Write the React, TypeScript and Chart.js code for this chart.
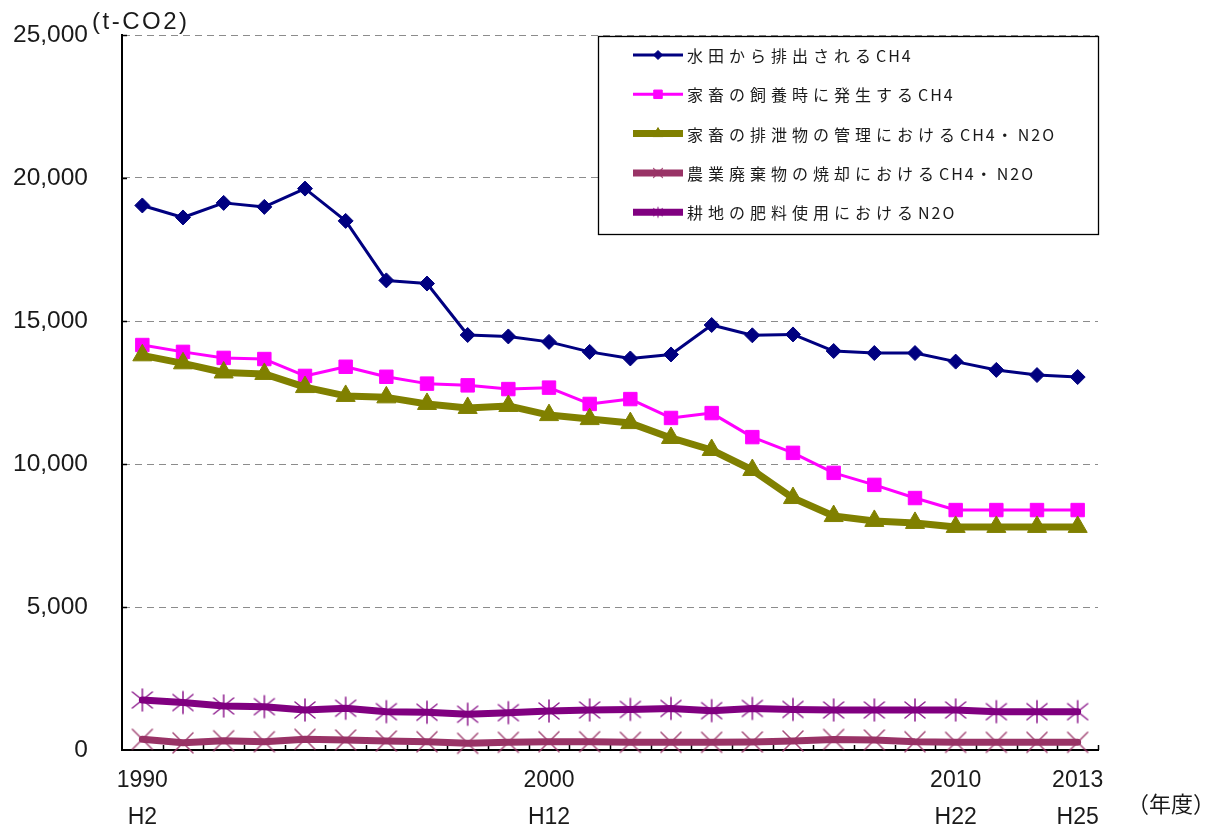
import React, { useEffect, useRef } from 'react';
import { Chart, registerables } from 'chart.js';
import { drawPoint } from 'chart.js/helpers';

Chart.register(...registerables);

// ---- data -------------------------------------------------------------
const years = [
  '1990', '1991', '1992', '1993', '1994', '1995', '1996', '1997',
  '1998', '1999', '2000', '2001', '2002', '2003', '2004', '2005',
  '2006', '2007', '2008', '2009', '2010', '2011', '2012', '2013',
];
const markedYears = ['1990', '2000', '2010', '2013'];
const eraNames = ['H2', 'H12', 'H22', 'H25'];

const seriesNames = [
  '水田から排出されるCH4',
  '家畜の飼養時に発生するCH4',
  '家畜の排泄物の管理におけるCH4・N2O',
  '農業廃棄物の焼却におけるCH4・N2O',
  '耕地の肥料使用におけるN2O',
];

const paddyFieldCH4 = [
  19040, 18620, 19130, 18990, 19630, 18500, 16420, 16310,
  14510, 14460, 14270, 13920, 13690, 13830, 14860, 14500,
  14530, 13950, 13880, 13880, 13580, 13290, 13110, 13040,
];
const entericCH4 = [
  14160, 13920, 13710, 13670, 13080, 13400, 13050, 12810,
  12750, 12620, 12670, 12100, 12270, 11610, 11780, 10940,
  10390, 9690, 9270, 8810, 8390, 8390, 8390, 8390,
];
const manureCH4N2O = [
  13800, 13520, 13200, 13150, 12690, 12380, 12330, 12100,
  11960, 12030, 11710, 11570, 11430, 10910, 10490, 9790,
  8810, 8180, 8010, 7940, 7800, 7800, 7800, 7800,
];
const residueBurning = [
  375, 250, 325, 290, 375, 350, 315, 290,
  235, 270, 290, 290, 270, 270, 270, 280,
  315, 370, 350, 290, 270, 270, 270, 270,
];
const fertilizerN2O = [
  1750, 1660, 1540, 1515, 1400, 1460, 1340, 1320,
  1250, 1305, 1365, 1400, 1420, 1455, 1375, 1455,
  1420, 1400, 1400, 1400, 1400, 1340, 1340, 1340,
];

const yMax = 25000;
const yStep = 5000;
const yUnit = '(t-CO2)';
const xUnit = '（年度）';

// ---- styling ----------------------------------------------------------
const NUM_FONT = '"Liberation Sans", Arial, sans-serif';
const JP_FONT = '"Noto Sans CJK JP", "Noto Sans", sans-serif';
const TEXT_COLOR = '#1a1a1a';

type MarkerDraw = (g: CanvasRenderingContext2D, s: number) => void;

const drawX: MarkerDraw = (g, s) => {
  g.moveTo(-10 * s, -10 * s); g.lineTo(10 * s, 10 * s);
  g.moveTo(-10 * s, 10 * s); g.lineTo(10 * s, -10 * s);
};
const drawAsterisk: MarkerDraw = (g, s) => {
  g.moveTo(-10 * s, -8 * s); g.lineTo(10 * s, 8 * s);
  g.moveTo(-10 * s, 8 * s); g.lineTo(10 * s, -8 * s);
  g.moveTo(0, -11 * s); g.lineTo(0, 11 * s);
};

function makeMarker(draw: MarkerDraw, color: string, scale: number, width: number) {
  const size = Math.ceil(26 * scale) + 2;
  const c = document.createElement('canvas');
  c.width = size;
  c.height = size;
  const g = c.getContext('2d')!;
  g.translate(size / 2, size / 2);
  g.strokeStyle = color;
  g.lineWidth = width;
  g.lineCap = 'round';
  g.globalAlpha = 0.85;
  g.beginPath();
  draw(g, scale);
  g.stroke();
  return c;
}

// Wide (CJK) characters get generous tracking, Latin characters stay tight.
function drawTrackedText(ctx: CanvasRenderingContext2D, text: string, x: number, y: number) {
  let cx = x;
  for (const ch of text) {
    ctx.fillText(ch, cx, y);
    const wide = ch.charCodeAt(0) > 0x2000;
    cx += ctx.measureText(ch).width + (wide ? 5 : 2);
  }
}

export default function App() {
  const canvasRef = useRef<HTMLCanvasElement | null>(null);

  useEffect(() => {
    const canvas = canvasRef.current;
    if (!canvas) return;

    const xMarker = makeMarker(drawX, '#993366', 1, 1.6);
    const starMarker = makeMarker(drawAsterisk, '#800080', 1, 1.6);
    const xMarkerSmall = makeMarker(drawX, '#993366', 0.45, 1.2);
    const starMarkerSmall = makeMarker(drawAsterisk, '#800080', 0.45, 1.2);

    const styles = [
      { color: '#000080', width: 3, point: 'rectRot' as any, radius: 7.5, legendPoint: 'rectRot' as any, legendRadius: 4.5 },
      { color: '#FF00FF', width: 3, point: 'rect' as any, radius: 9.5, legendPoint: 'rect' as any, legendRadius: 6 },
      { color: '#808000', width: 7, point: 'triangle' as any, radius: 11, legendPoint: 'triangle' as any, legendRadius: 6 },
      { color: '#993366', width: 7, point: xMarker as any, radius: 10, legendPoint: xMarkerSmall as any, legendRadius: 5 },
      { color: '#800080', width: 7, point: starMarker as any, radius: 10, legendPoint: starMarkerSmall as any, legendRadius: 5 },
    ];
    const values = [paddyFieldCH4, entericCH4, manureCH4N2O, residueBurning, fertilizerN2O];

    const datasets = seriesNames.map((name, i) => ({
      label: name,
      data: values[i],
      borderColor: styles[i].color,
      backgroundColor: styles[i].color,
      borderWidth: styles[i].width,
      borderJoinStyle: 'round' as const,
      borderCapStyle: 'round' as const,
      pointStyle: styles[i].point,
      pointRadius: styles[i].radius,
      pointBorderWidth: 1,
      pointBackgroundColor: styles[i].color,
      pointBorderColor: styles[i].color,
      tension: 0,
      clip: false as any,
      order: -i,
    }));

    // Inward tick marks on both axes
    const axisTicks = {
      id: 'axisTicks',
      beforeDatasetsDraw(chart: any) {
        const { ctx, chartArea } = chart;
        const y = chart.scales.y;
        ctx.save();
        ctx.strokeStyle = '#000';
        ctx.lineWidth = 1.5;
        ctx.beginPath();
        const n = years.length;
        const band = (chartArea.right - chartArea.left) / n;
        for (let i = 1; i <= n; i++) {
          const px = Math.round(chartArea.left + i * band) + 0.5;
          ctx.moveTo(px, chartArea.bottom);
          ctx.lineTo(px, chartArea.bottom - 5);
        }
        for (let v = yStep; v <= yMax; v += yStep) {
          const py = Math.round(y.getPixelForValue(v)) + 0.5;
          ctx.moveTo(chartArea.left, py);
          ctx.lineTo(chartArea.left + 5, py);
        }
        ctx.stroke();
        ctx.restore();
      },
    };

    // Boxed legend in the upper right and the unit captions
    const boxLegend = {
      id: 'boxLegend',
      afterDraw(chart: any) {
        const { ctx, chartArea } = chart;
        const boxW = 500;
        const boxH = 198;
        const left = chartArea.right - boxW;
        const top = chartArea.top + 1;
        ctx.save();
        ctx.fillStyle = '#fff';
        ctx.fillRect(left, top, boxW, boxH);
        ctx.strokeStyle = '#000';
        ctx.lineWidth = 1.3;
        ctx.strokeRect(left + 0.5, top + 0.5, boxW, boxH);

        const rowTop = top + 19;
        const rowStep = 39.3;
        chart.data.datasets.forEach((ds: any, i: number) => {
          const cy = rowTop + i * rowStep;
          const x0 = left + 35;
          const x1 = left + 85;
          ctx.save();
          ctx.strokeStyle = styles[i].color;
          ctx.lineWidth = styles[i].width;
          ctx.lineCap = 'butt';
          ctx.beginPath();
          ctx.moveTo(x0, cy);
          ctx.lineTo(x1, cy);
          ctx.stroke();
          ctx.fillStyle = styles[i].color;
          ctx.strokeStyle = styles[i].color;
          ctx.lineWidth = 1;
          drawPoint(ctx, { pointStyle: styles[i].legendPoint, radius: styles[i].legendRadius, rotation: 0, borderWidth: 1 } as any, (x0 + x1) / 2, cy);
          ctx.restore();

          ctx.fillStyle = TEXT_COLOR;
          ctx.font = `16px ${JP_FONT}`;
          ctx.textAlign = 'left';
          ctx.textBaseline = 'middle';
          drawTrackedText(ctx, ds.label, x1 + 4, cy + 1);
        });

        ctx.fillStyle = TEXT_COLOR;
        ctx.font = `24px ${NUM_FONT}`;
        ctx.textAlign = 'left';
        ctx.textBaseline = 'middle';
        (ctx as any).letterSpacing = '2.5px';
        ctx.fillText(yUnit, 92, 22);
        (ctx as any).letterSpacing = '0px';

        ctx.font = `22px ${JP_FONT}`;
        ctx.textAlign = 'center';
        ctx.fillText(xUnit, 1171, 804);
        ctx.restore();
      },
    };

    const chart = new Chart(canvas, {
      type: 'line',
      data: { labels: years, datasets },
      options: {
        responsive: false,
        animation: false,
        devicePixelRatio: 1,
        events: [],
        layout: { padding: { left: 0, top: 35, right: 122, bottom: 0 } },
        plugins: {
          legend: { display: false },
          tooltip: { enabled: false },
          title: { display: false },
        },
        scales: {
          x: {
            type: 'category',
            offset: true,
            grid: { display: false, drawTicks: false },
            border: { display: true, color: '#000', width: 2 },
            ticks: {
              autoSkip: false,
              maxRotation: 0,
              minRotation: 0,
              padding: 13,
              color: TEXT_COLOR,
              font: { family: NUM_FONT, size: 23, lineHeight: 1.57 },
              callback(this: any, value: any) {
                const year = this.getLabelForValue(value);
                const k = markedYears.indexOf(year);
                return k >= 0 ? [year, eraNames[k]] : '';
              },
            },
            afterFit(scale: any) {
              scale.height = 75;
              scale.paddingLeft = 0;
              scale.paddingRight = 0;
            },
          },
          y: {
            min: 0,
            max: yMax,
            grid: {
              drawTicks: false,
              lineWidth: 1,
              color: (c: any) => (c.tick && c.tick.value === 0 ? 'rgba(0,0,0,0)' : '#8c8c8c'),
            },
            border: { display: true, color: '#000', width: 2, dash: [7, 5] },
            ticks: {
              stepSize: yStep,
              padding: 34,
              color: TEXT_COLOR,
              font: { family: NUM_FONT, size: 24.5 },
              callback: (v: any) => Number(v).toLocaleString('en-US'),
            },
            afterFit(scale: any) {
              scale.width = 122;
              scale.paddingTop = 0;
              scale.paddingBottom = 0;
            },
          },
        },
      },
      plugins: [axisTicks, boxLegend],
    });

    return () => chart.destroy();
  }, []);

  return (
    <div style={{ position: 'fixed', left: 0, top: 0, width: 1220, height: 825, background: '#fff' }}>
      <canvas ref={canvasRef} width={1220} height={825} style={{ display: 'block', width: 1220, height: 825 }} />
    </div>
  );
}
